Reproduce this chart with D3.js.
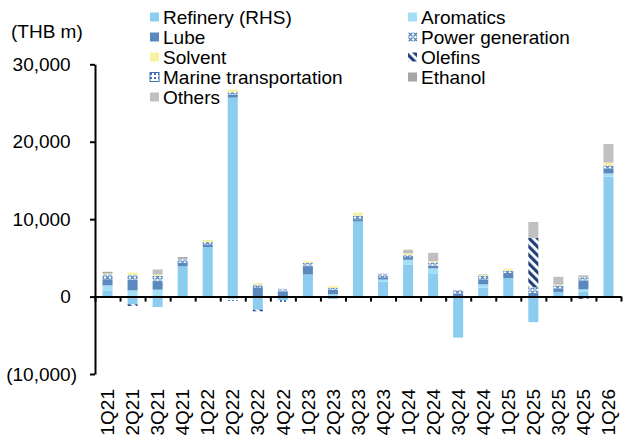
<!DOCTYPE html>
<html>
<head>
<meta charset="utf-8">
<script src="https://cdn.jsdelivr.net/npm/d3@7"></script>
<style>
  body { margin: 0; background: #fff; }
  text { font-family: Arial, "Liberation Sans", sans-serif; fill: #000; }
</style>
</head>
<body>
<svg id="chart" width="624" height="445"></svg>
<script>
// Quarterly segment profit, THB m
const categories = ["1Q21","2Q21","3Q21","4Q21","1Q22","2Q22","3Q22","4Q22","1Q23","2Q23","3Q23",
                    "4Q23","1Q24","2Q24","3Q24","4Q24","1Q25","2Q25","3Q25","4Q25","1Q26"];
const seriesNames = ["Refinery (RHS)","Aromatics","Lube","Power generation","Solvent","Olefins",
                     "Marine transportation","Ethanol","Others"];

const refinery   = [800, -1000, -1350, 3900, 6400, 25700, -1700, -450, 2850, -300, 9700,
                    1950, 4100, 3000, -5300, 1150, 2400, -3300, 600, 600, 15500];
const aromatics  = [650, 800, 900, 0, 0, -300, 0, 0, 0, 300, 0,
                    250, 650, 650, 0, 430, 0, 0, -200, 350, 400];
const lube       = [800, 1400, 1100, 480, 350, 400, 1200, 650, 1080, 550, 300,
                    300, 350, 350, 400, 650, 650, 480, 450, 1150, 650];
const powerGen   = [650, 600, 700, 520, 300, 300, 350, 350, 430, 250, 450,
                    450, 300, 400, 450, 430, 300, 700, 400, 350, 400];
const solvent    = [100, 300, 150, 0, 250, 350, 200, 0, 200, 250, 400,
                    0, 200, 150, 0, 100, 250, 0, 100, 0, 350];
const olefins    = [0, -200, 0, 0, 0, 0, -200, 0, 0, 0, 0,
                    0, 0, 0, 0, 0, 0, 6400, 0, -300, 0];
const marine     = [0, 0, 0, 0, 0, -250, 0, -300, 0, 0, 0,
                    0, 0, 0, 0, 0, 0, 0, 0, 0, 0];
const ethanol    = [200, 0, 0, 200, 0, 0, 0, 0, 0, 0, 0,
                    0, 0, 0, 0, 0, 0, 0, 0, 0, 0];
const others     = [0, 0, 650, 0, 0, 0, 0, 0, 0, 0, 0,
                    0, 450, 1100, 0, 100, 0, 2050, 1000, 300, 2400];

const yTicks = [-10000, 0, 10000, 20000, 30000];

const seriesValues = [refinery, aromatics, lube, powerGen, solvent, olefins, marine, ethanol, others];
const rows = categories.map((c, i) => {
  const r = { cat: c };
  seriesNames.forEach((s, k) => { r[s] = seriesValues[k][i]; });
  return r;
});

const svg = d3.select("#chart");
const defs = svg.append("defs");

// Fill patterns
const pPower = defs.append("pattern").attr("id", "pat-power")
  .attr("patternUnits", "userSpaceOnUse").attr("width", 5).attr("height", 5);
pPower.append("rect").attr("width", 5).attr("height", 5).attr("fill", "#ffffff");
pPower.append("path").attr("d", "M0.5,0.5 L4.5,4.5 M4.5,0.5 L0.5,4.5")
  .attr("stroke", "#4a7ebb").attr("stroke-width", 1.1);

const pOle = defs.append("pattern").attr("id", "pat-olefins")
  .attr("patternUnits", "userSpaceOnUse").attr("width", 6).attr("height", 6)
  .attr("patternTransform", "rotate(-45)");
pOle.append("rect").attr("width", 6).attr("height", 6).attr("fill", "#ffffff");
pOle.append("rect").attr("width", 3.2).attr("height", 6).attr("fill", "#223f7a");

const pMar = defs.append("pattern").attr("id", "pat-marine")
  .attr("patternUnits", "userSpaceOnUse").attr("width", 4).attr("height", 4);
pMar.append("rect").attr("width", 4).attr("height", 4).attr("fill", "#ffffff");
pMar.append("rect").attr("x", 0).attr("y", 0).attr("width", 2).attr("height", 2).attr("fill", "#3f6fb0");

const fills = {
  "Refinery (RHS)": "#8ccdef",
  "Aromatics": "#a3e0f6",
  "Lube": "#5b89bd",
  "Power generation": "url(#pat-power)",
  "Solvent": "#f6f1a3",
  "Olefins": "url(#pat-olefins)",
  "Marine transportation": "url(#pat-marine)",
  "Ethanol": "#a6a6a6",
  "Others": "#c0c0c0"
};

const left = 95, right = 621;
const x = d3.scaleBand().domain(categories).range([left, right])
  .paddingInner(0.6).paddingOuter(0.3);
const y = d3.scaleLinear().domain([-10000, 30000]).range([374, 64.3]);

const stack = d3.stack().keys(seriesNames)
  .order(d3.stackOrderNone).offset(d3.stackOffsetDiverging);
const stacked = stack(rows);

// Bars
const g = svg.append("g");
stacked.forEach(layer => {
  g.append("g").selectAll("rect")
    .data(layer.filter(d => d[1] !== d[0]))
    .join("rect")
    .attr("x", d => x(d.data.cat))
    .attr("width", x.bandwidth())
    .attr("y", d => y(Math.max(d[0], d[1])))
    .attr("height", d => Math.abs(y(d[0]) - y(d[1])))
    .attr("fill", fills[layer.key]);
});

// Y axis; positive labels leave room for the closing bracket of negatives
const fmt = v => v < 0 ? "(" + d3.format(",")(-v) + ")" : d3.format(",")(v);
const yAxis = svg.append("g").attr("transform", `translate(${left},0)`)
  .call(d3.axisLeft(y).tickValues(yTicks).tickSize(5).tickSizeOuter(0).tickPadding(13).tickFormat(fmt));
yAxis.selectAll("path, line").attr("stroke", "#000").attr("stroke-width", 2);
yAxis.selectAll("text")
  .attr("font-size", 19)
  .style("font-family", "Arial, 'Liberation Sans', sans-serif")
  .attr("fill", "#000")
  .attr("x", d => d < 0 ? -18 : -24.3);

// X axis at zero, ticks between categories
const xb = d3.scaleLinear().domain([0, categories.length]).range([left, right]);
const xAxis = svg.append("g").attr("transform", `translate(0,${y(0)})`)
  .call(d3.axisBottom(xb).tickValues(d3.range(categories.length + 1)).tickSize(5).tickSizeOuter(0).tickFormat(""));
xAxis.selectAll("path, line").attr("stroke", "#000").attr("stroke-width", 2);

// Category labels (rotated)
svg.append("g").selectAll("text")
  .data(categories)
  .join("text")
  .attr("transform", d => `translate(${x(d) + x.bandwidth() / 2},389) rotate(-90)`)
  .attr("text-anchor", "end")
  .attr("dy", "0.35em")
  .attr("font-size", 19)
  .text(d => d);

// Unit label
svg.append("text").attr("x", 11).attr("y", 38).attr("font-size", 19).text("(THB m)");

// Legend, two columns
const legend = svg.append("g");
const colX = [150, 408];
seriesNames.forEach((s, i) => {
  const cx = colX[i % 2];
  const cy = 17 + Math.floor(i / 2) * 20;
  const item = legend.append("g").attr("transform", `translate(${cx},${cy})`);
  item.append("rect").attr("x", 0).attr("y", -4.5).attr("width", 9).attr("height", 9)
    .attr("fill", fills[s])
    .attr("stroke", s === "Marine transportation" ? "#3f6fb0" : "none")
    .attr("stroke-width", 1);
  item.append("text").attr("x", 13).attr("dy", "0.35em").attr("font-size", 19).text(s);
});
</script>
</body>
</html>
